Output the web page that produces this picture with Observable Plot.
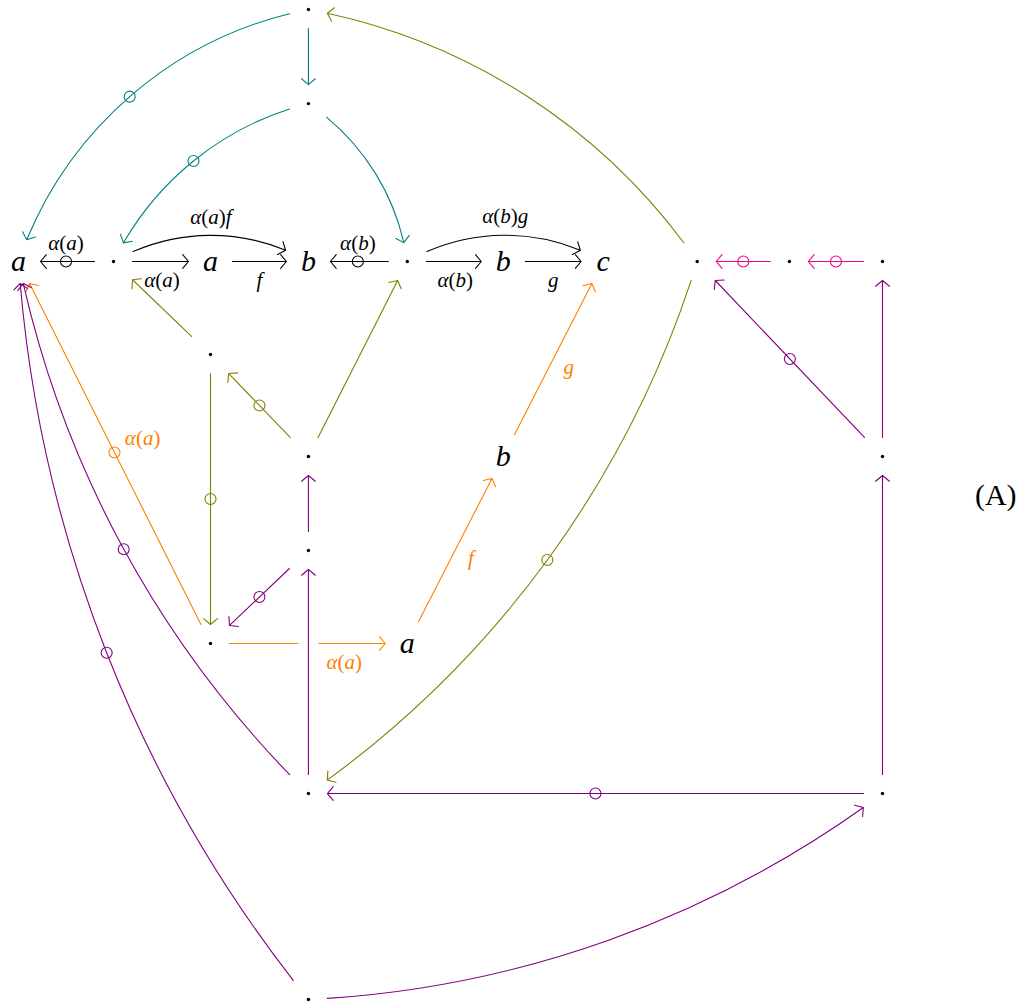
<!DOCTYPE html>
<html>
<head>
<meta charset="utf-8">
<script src="https://cdn.jsdelivr.net/npm/d3@7"></script>
<script src="https://cdn.jsdelivr.net/npm/@observablehq/plot@0.6"></script>
<style>
  html, body { margin: 0; padding: 0; background: #fff; overflow: hidden; }
  #chart svg { display: block; }
</style>
</head>
<body>
<div id="chart"></div>
<script>
// Objects of the diagram, in grid units (x to the right, y downward).
const nodes = [
  {id: "n0", label: "·", x: 3.02, y: 0},
  {id: "n1", label: "·", x: 3.02, y: 0.98},
  {id: "A0", label: "a", x: 0,    y: 2.625},
  {id: "d1", label: "·", x: 0.99, y: 2.625},
  {id: "A1", label: "a", x: 2.0,  y: 2.625},
  {id: "B0", label: "b", x: 3.02, y: 2.625},
  {id: "d2", label: "·", x: 4.05, y: 2.625},
  {id: "B1", label: "b", x: 5.05, y: 2.625},
  {id: "C",  label: "c", x: 6.09, y: 2.625},
  {id: "m0", label: "·", x: 7.07, y: 2.625},
  {id: "m1", label: "·", x: 8.03, y: 2.625},
  {id: "m2", label: "·", x: 9.0,  y: 2.625},
  {id: "o1", label: "·", x: 2.0,  y: 3.594},
  {id: "o2", label: "·", x: 3.02, y: 4.656},
  {id: "B2", label: "b", x: 5.05, y: 4.656},
  {id: "r1", label: "·", x: 9.0,  y: 4.656},
  {id: "p1", label: "·", x: 3.02, y: 5.635},
  {id: "q1", label: "·", x: 2.0,  y: 6.604},
  {id: "A2", label: "a", x: 4.05, y: 6.604},
  {id: "p2", label: "·", x: 3.02, y: 8.167},
  {id: "r2", label: "·", x: 9.0,  y: 8.167},
  {id: "p3", label: "·", x: 3.02, y: 10.3125}
];

// Morphisms: bend in degrees (positive = clockwise), mark = circled arrow.
const edges = [
  {from: "n0", to: "n1", family: "teal"},
  {from: "n0", to: "A0", family: "teal", bend: -30, mark: true},
  {from: "n1", to: "d1", family: "teal", bend: -25, mark: true},
  {from: "n1", to: "d2", family: "teal", bend: 24},

  {from: "d1", to: "A0", family: "black", mark: true, label: "α(a)", side: "right"},
  {from: "d1", to: "A1", family: "black", label: "α(a)", side: "right"},
  {from: "d1", to: "B0", family: "black", bend: 30, label: "α(a)f", side: "left"},
  {from: "A1", to: "B0", family: "black", label: "f", side: "right"},
  {from: "d2", to: "B0", family: "black", mark: true, label: "α(b)", side: "right"},
  {from: "d2", to: "B1", family: "black", label: "α(b)", side: "right"},
  {from: "d2", to: "C",  family: "black", bend: 30, label: "α(b)g", side: "left"},
  {from: "B1", to: "C",  family: "black", label: "g", side: "right"},

  {from: "m1", to: "m0", family: "magenta", mark: true},
  {from: "m2", to: "m1", family: "magenta", mark: true},

  {from: "m0", to: "n0", family: "olive", bend: -22.5},
  {from: "m0", to: "p2", family: "olive", bend: 19, mark: true},
  {from: "o1", to: "d1", family: "olive"},
  {from: "o2", to: "o1", family: "olive", mark: true},
  {from: "o2", to: "d2", family: "olive"},
  {from: "o1", to: "q1", family: "olive", mark: true},

  {from: "q1", to: "A0", family: "orange", mark: true, label: "α(a)", side: "right"},
  {from: "q1", to: "A2", family: "orange", label: "α(a)", side: "right", pos: 0.68},
  {from: "A2", to: "B2", family: "orange", label: "f", side: "right"},
  {from: "B2", to: "C",  family: "orange", label: "g", side: "right"},

  {from: "p1", to: "o2", family: "purple"},
  {from: "p2", to: "p1", family: "purple", crossing: true},
  {from: "p1", to: "q1", family: "purple", mark: true},
  {from: "p2", to: "A0", family: "purple", bend: 17, mark: true},
  {from: "p3", to: "A0", family: "purple", bend: 17.5, mark: true},
  {from: "p3", to: "r2", family: "purple", bend: -17},
  {from: "r2", to: "p2", family: "purple", mark: true},
  {from: "r2", to: "r1", family: "purple"},
  {from: "r1", to: "m2", family: "purple"},
  {from: "r1", to: "m0", family: "purple", mark: true}
];

// Diagram tag on the right.
const tags = [{text: "(A)", x: 10.18, y: 5.06}];

const families = ["black", "teal", "olive", "orange", "purple", "magenta"];
const palette  = ["#000000", "#008080", "#808000", "#ff8000", "#800080", "#ec008c"];
const color = new Map(families.map((f, i) => [f, palette[i]]));

const SERIF = "'Liberation Serif', 'DejaVu Serif', serif";
const NODE_SIZE = 30, LABEL_SIZE = 21;
const RAD = Math.PI / 180;
const byId = new Map(nodes.map(n => [n.id, n]));

// Distance from a node centre to its bounding box along a direction.
function boxInset(node, angle) {
  const half = node.label === "·" ? 19 : 22;
  const c = Math.abs(Math.cos(angle)), s = Math.abs(Math.sin(angle));
  return Math.min(c > 1e-6 ? half / c : Infinity, s > 1e-6 ? half / s : Infinity);
}

// Geometry of each morphism (grid units share the same pixel size in x and y).
const geoms = edges.map(e => {
  const s = byId.get(e.from), t = byId.get(e.to);
  const dx = t.x - s.x, dy = t.y - s.y, L = Math.hypot(dx, dy);
  const ux = dx / L, uy = dy / L;
  const bend = e.bend || 0;
  const chord = Math.atan2(dy, dx);
  const sag = (L / 2) * Math.tan(bend * RAD / 2);
  const p = e.pos ?? 0.5;
  return {
    ...e, bend,
    x1: s.x, y1: s.y, x2: t.x, y2: t.y,
    mx: (s.x + t.x) / 2 + sag * uy,
    my: (s.y + t.y) / 2 - sag * ux,
    lx: bend ? (s.x + t.x) / 2 + sag * uy : s.x + p * dx,
    ly: bend ? (s.y + t.y) / 2 - sag * ux : s.y + p * dy,
    ux, uy,
    insetStart: boxInset(s, chord - bend * RAD),
    insetEnd: boxInset(t, chord + bend * RAD)
  };
});

const marks = [];
const SW = 1.1;
const HEAD = 9 * 1.5 / SW;

for (const g of geoms) {
  if (g.crossing) {
    marks.push(Plot.arrow([g], {
      x1: "x1", y1: "y1", x2: "x2", y2: "y2",
      bend: g.bend, stroke: "white", strokeWidth: 20, strokeLinecap: "butt",
      headLength: 0, insetStart: g.insetStart + 4, insetEnd: g.insetEnd + 4
    }));
  }
  marks.push(Plot.arrow([g], {
    x1: "x1", y1: "y1", x2: "x2", y2: "y2",
    bend: g.bend, stroke: color.get(g.family), strokeWidth: SW,
    headAngle: 100, headLength: HEAD,
    insetStart: g.insetStart, insetEnd: g.insetEnd
  }));
}

// Circled arrows: a small ring at the middle of the arrow.
marks.push(Plot.dot(geoms.filter(g => g.mark), {
  x: "mx", y: "my", r: 5.5, fill: "none", strokeWidth: SW,
  stroke: d => color.get(d.family)
}));

// Arrow labels, pushed off the arrow towards their side.
for (const g of geoms.filter(g => g.label)) {
  const nx = g.side === "left" ? g.uy : -g.uy;
  const ny = g.side === "left" ? -g.ux : g.ux;
  const w = g.label.length * LABEL_SIZE * 0.5, h = LABEL_SIZE;
  const off = 8 + Math.abs(nx) * w / 2 + Math.abs(ny) * h / 2;
  marks.push(Plot.text([g], {
    x: "lx", y: "ly", text: "label", dx: nx * off, dy: ny * off,
    fill: color.get(g.family), fontSize: LABEL_SIZE, fontFamily: SERIF,
    fontStyle: "italic"
  }));
}

// Objects: letters and bare points.
marks.push(Plot.dot(nodes.filter(n => n.label === "·"), {x: "x", y: "y", r: 1.7, fill: "black"}));
marks.push(Plot.text(nodes.filter(n => n.label !== "·"), {
  x: "x", y: "y", text: "label", fontSize: NODE_SIZE, fontStyle: "italic",
  fontFamily: SERIF, fill: "black"
}));
marks.push(Plot.text(tags, {
  x: "x", y: "y", text: "text", fontSize: NODE_SIZE, fontFamily: SERIF, fill: "black"
}));

const chart = Plot.plot({
  width: 1025,
  height: 1002,
  marginLeft: 18,
  marginRight: 143,
  marginTop: 9,
  marginBottom: 3,
  x: {domain: [0, 9], axis: null},
  y: {domain: [0, 10.3125], reverse: true, axis: null},
  style: {background: "#fff", overflow: "visible"},
  marks
});

// Math typesetting: letters in italic, brackets upright.
for (const el of chart.querySelectorAll("text")) {
  const s = el.textContent;
  if (!s.includes("α")) continue;
  el.textContent = "";
  for (const ch of s) {
    const ts = document.createElementNS("http://www.w3.org/2000/svg", "tspan");
    ts.textContent = ch;
    ts.setAttribute("font-style", /[a-zα-ω]/i.test(ch) ? "italic" : "normal");
    el.appendChild(ts);
  }
}

document.getElementById("chart").appendChild(chart);
</script>
</body>
</html>
